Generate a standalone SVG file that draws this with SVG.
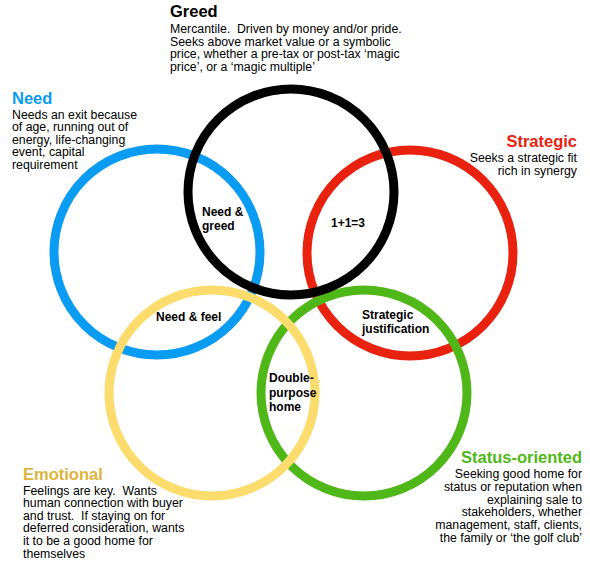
<svg xmlns="http://www.w3.org/2000/svg" width="590" height="578" viewBox="0 0 590 578">
<style>
.ring{fill:none;stroke-width:9}
text{font-family:"Liberation Sans",Arial,Helvetica,sans-serif;fill:#000;white-space:pre}
.title{font-size:16.5px;font-weight:bold}
.body{font-size:12.3px}
.lbl{font-size:12px;font-weight:bold}
.end{text-anchor:end}
</style>
<rect width="590" height="578" fill="#fff"/>
<g id="rings">
<g id="need-ring"><circle class="ring" cx="157" cy="252" r="103" stroke="#0A9CF3"/></g>
<g id="strategic-ring"><circle class="ring" cx="410" cy="253" r="103" stroke="#E8220F"/></g>
<g id="status-ring"><circle class="ring" cx="364" cy="393" r="103" stroke="#4FB818"/></g>
<g id="emotional-ring"><circle class="ring" cx="212" cy="393" r="103" stroke="#FDDC6E"/></g>
<g id="greed-ring"><circle class="ring" cx="291" cy="192" r="103" stroke="#000"/></g>
</g>
<g id="greed">
<text class="title" x="170" y="17">Greed</text>
<text class="body" x="170" y="33" xml:space="preserve">Mercantile.  Driven by money and/or pride.</text>
<text class="body" x="170" y="45.5">Seeks above market value or a symbolic</text>
<text class="body" x="170" y="58">price, whether a pre-tax or post-tax ‘magic</text>
<text class="body" x="170" y="70.5">price’, or a ‘magic multiple’</text>
</g>
<g id="need">
<text class="title" x="12" y="104" style="fill:#0A9CF3">Need</text>
<text class="body" x="12" y="118.5">Needs an exit because</text>
<text class="body" x="12" y="131">of age, running out of</text>
<text class="body" x="12" y="143.5">energy, life-changing</text>
<text class="body" x="12" y="156">event, capital</text>
<text class="body" x="12" y="168.5">requirement</text>
</g>
<g id="strategic">
<text class="title end" x="577" y="147" style="fill:#E8220F">Strategic</text>
<text class="body end" x="577" y="162">Seeks a strategic fit</text>
<text class="body end" x="577" y="174.5">rich in synergy</text>
</g>
<g id="emotional">
<text class="title" x="23" y="480" style="fill:#DDB43E">Emotional</text>
<text class="body" x="23" y="494.5" xml:space="preserve">Feelings are key.  Wants</text>
<text class="body" x="23" y="507">human connection with buyer</text>
<text class="body" x="23" y="519.5" xml:space="preserve">and trust.  If staying on for</text>
<text class="body" x="23" y="532">deferred consideration, wants</text>
<text class="body" x="23" y="545">it to be a good home for</text>
<text class="body" x="23" y="558">themselves</text>
</g>
<g id="status">
<text class="title end" x="582" y="463" style="fill:#4FB818">Status-oriented</text>
<text class="body end" x="582" y="478">Seeking good home for</text>
<text class="body end" x="582" y="491">status or reputation when</text>
<text class="body end" x="582" y="503.5">explaining sale to</text>
<text class="body end" x="582" y="516">stakeholders, whether</text>
<text class="body end" x="582" y="529">management, staff, clients,</text>
<text class="body end" x="582" y="542">the family or ‘the golf club’</text>
</g>
<g id="need-greed">
<text class="lbl" x="202" y="216">Need &amp;</text>
<text class="lbl" x="202" y="230">greed</text>
</g>
<g id="synergy">
<text class="lbl" x="331" y="227">1+1=3</text>
</g>
<g id="need-feel">
<text class="lbl" x="156" y="321">Need &amp; feel</text>
</g>
<g id="strategic-justification">
<text class="lbl" x="362" y="319">Strategic</text>
<text class="lbl" x="362" y="333">justification</text>
</g>
<g id="double-purpose">
<text class="lbl" x="269" y="382">Double-</text>
<text class="lbl" x="269" y="396.5">purpose</text>
<text class="lbl" x="269" y="411">home</text>
</g>
</svg>
